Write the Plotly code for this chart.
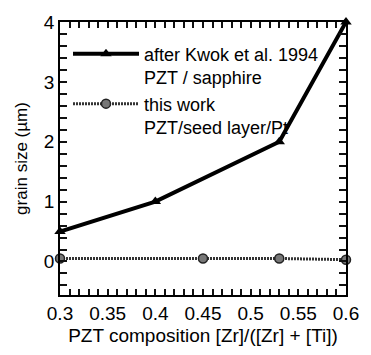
import plotly.graph_objects as go

kwok_x = [0.3, 0.4, 0.53, 0.6]
kwok_y = [0.5, 1.0, 2.0, 4.0]
work_x = [0.3, 0.45, 0.53, 0.6]
work_y = [0.05, 0.05, 0.05, 0.03]

# tick positions (every minor step) and labels (blank at minor positions)
x_ticks = [0.30, 0.31, 0.32, 0.33, 0.34, 0.35, 0.36, 0.37, 0.38, 0.39,
           0.40, 0.41, 0.42, 0.43, 0.44, 0.45, 0.46, 0.47, 0.48, 0.49,
           0.50, 0.51, 0.52, 0.53, 0.54, 0.55, 0.56, 0.57, 0.58, 0.59, 0.60]
x_labels = ["0.3", "", "", "", "", "0.35", "", "", "", "",
            "0.4", "", "", "", "", "0.45", "", "", "", "",
            "0.5", "", "", "", "", "0.55", "", "", "", "", "0.6"]
y_ticks = [-0.4, -0.2, 0, 0.2, 0.4, 0.6, 0.8, 1, 1.2, 1.4, 1.6, 1.8, 2,
           2.2, 2.4, 2.6, 2.8, 3, 3.2, 3.4, 3.6, 3.8, 4]
y_labels = ["", "", "0", "", "", "", "", "1", "", "", "", "", "2",
            "", "", "", "", "3", "", "", "", "", "4"]

x_range = [0.3, 0.6]
y_range = [-0.56, 4.0]

font_family = "Liberation Sans, Arial, sans-serif"

fig = go.Figure()
fig.add_trace(go.Scatter(
    x=kwok_x, y=kwok_y, mode="lines+markers",
    name="after Kwok et al. 1994<br>PZT / sapphire",
    line=dict(color="black", width=4),
    marker=dict(symbol="triangle-up", size=10, color="black"),
    cliponaxis=False,
))
fig.add_trace(go.Scatter(
    x=work_x, y=work_y, mode="lines+markers",
    name="this work<br>PZT/seed layer/Pt",
    line=dict(color="#333", width=3, dash="2px,1px"),
    marker=dict(symbol="circle", size=9, color="#777", line=dict(color="#222", width=1.5)),
    cliponaxis=False,
))

fig.update_layout(
    width=371, height=355,
    margin=dict(l=60, r=24, t=17, b=58),
    paper_bgcolor="white", plot_bgcolor="white",
    font=dict(family=font_family, color="black"),
    xaxis=dict(
        range=x_range, tickmode="array", tickvals=x_ticks, ticktext=x_labels,
        showline=True, linecolor="black", linewidth=1.5, mirror="allticks",
        ticks="inside", ticklen=6, tickwidth=2, tickcolor="#111",
        showgrid=False, zeroline=False,
        tickfont=dict(family=font_family, size=19, color="black"),
        title=dict(text="PZT composition [Zr]/([Zr] + [Ti])",
                   font=dict(family=font_family, size=19, color="black"), standoff=6),
    ),
    yaxis=dict(
        range=y_range, tickmode="array", tickvals=y_ticks, ticktext=y_labels,
        showline=True, linecolor="black", linewidth=1.5, mirror="allticks",
        ticks="inside", ticklen=7, tickwidth=2, tickcolor="#111",
        showgrid=False, zeroline=False,
        tickfont=dict(family=font_family, size=19, color="black"),
        title=dict(text="grain size (µm)",
                   font=dict(family=font_family, size=17, color="black"), standoff=12),
    ),
    legend=dict(
        x=0.028, y=0.95, xanchor="left", yanchor="top",
        bgcolor="rgba(0,0,0,0)", borderwidth=0,
        font=dict(family=font_family, size=18, color="black"),
        itemwidth=66, valign="top", tracegroupgap=0,
    ),
)

fig.write_html("out.html", config={"displayModeBar": False},
               post_script="document.body.style.margin='0';")
